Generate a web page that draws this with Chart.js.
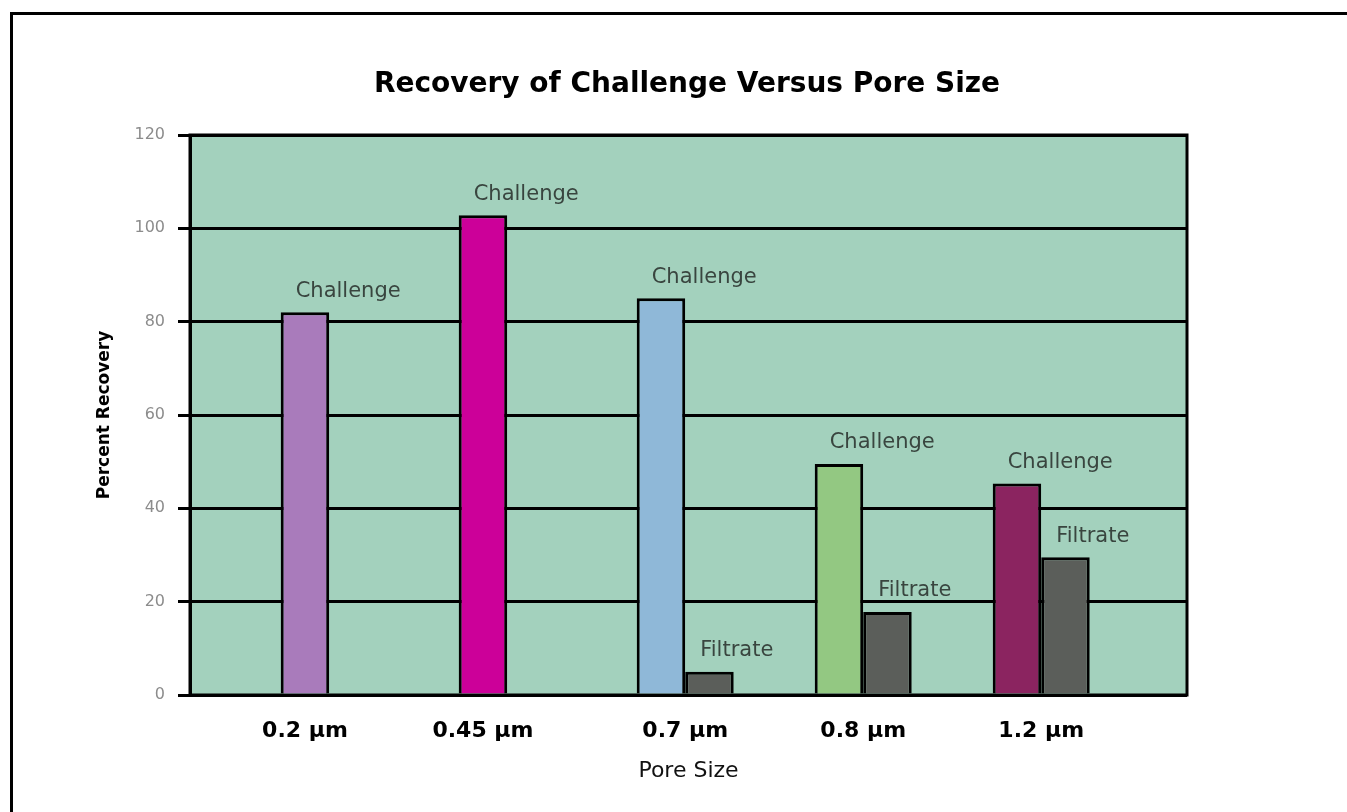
<!DOCTYPE html>
<html>
<head>
<meta charset="utf-8">
<script src="https://cdn.jsdelivr.net/npm/chart.js@4"></script>
<style>
  html, body { margin: 0; padding: 0; background: #fff; overflow: hidden; }
  #wrap { position: relative; width: 1347px; height: 812px; overflow: hidden; }
  #frame { position: absolute; left: 10px; top: 12px; width: 1400px; height: 900px;
           border-top: 3px solid #000; border-left: 3px solid #000; }
  canvas { position: absolute; left: 0; top: 0; }
</style>
</head>
<body>
<div id="wrap">
  <div id="frame"></div>
  <canvas id="chart" width="1347" height="812"></canvas>
</div>
<script>
// Pore sizes tested and percent recovery of each sample
const poreSizes = ['0.2 µm', '0.45 µm', '0.7 µm', '0.8 µm', '1.2 µm'];
const challenge = [82, 102.8, 85, 49.5, 45.3];
const filtrate = [null, null, 5, 17.8, 29.5];
const seriesNames = ['Challenge', 'Filtrate'];
const yTickValues = [0, 20, 40, 60, 80, 100, 120];

const challengeColors = ['#a97bbb', '#cc0099', '#8fb8d8', '#93c882', '#8b2460'];
const filtrateColor = '#5b5e5a';
const plotFill = '#a3d1bd';

const CAT_PCT = 0.545;
const FONT = '"DejaVu Sans", "Liberation Sans", sans-serif';
const LEFT_PAD = 27;

// Mint plot background and black frame round the plot
const plotFrame = {
  id: 'plotFrame',
  beforeDraw(chart) {
    const { ctx, chartArea: a } = chart;
    ctx.save();
    ctx.fillStyle = plotFill;
    ctx.fillRect(a.left, a.top, a.right - a.left, a.bottom - a.top);
    ctx.restore();
  },
  beforeDatasetsDraw(chart) {
    const { ctx, chartArea: a } = chart;
    ctx.save();
    ctx.strokeStyle = '#000';
    ctx.lineWidth = 3;
    ctx.strokeRect(a.left, a.top, a.right - a.left, a.bottom - a.top);
    ctx.restore();
  }
};

// Series name written above each bar
const barNames = {
  id: 'barNames',
  afterDatasetsDraw(chart) {
    const ctx = chart.ctx;
    ctx.save();
    ctx.font = '21px ' + FONT;
    ctx.fillStyle = '#39453f';
    ctx.textAlign = 'left';
    ctx.textBaseline = 'middle';
    chart.data.datasets.forEach((ds, di) => {
      chart.getDatasetMeta(di).data.forEach((bar, i) => {
        const v = ds.data[i].y;
        if (v === null || v === undefined) return;
        ctx.fillText(seriesNames[di], bar.x - bar.width / 2 + 15, bar.y - 21);
      });
    });
    ctx.restore();
  }
};

new Chart(document.getElementById('chart'), {
  type: 'bar',
  data: {
    datasets: [
      {
        label: seriesNames[0],
        data: challenge.map((v, i) => ({ x: i, y: v })),
        backgroundColor: challengeColors,
        borderColor: '#000',
        borderWidth: 3,
        categoryPercentage: CAT_PCT,
        barPercentage: 1
      },
      {
        label: seriesNames[1],
        data: filtrate.map((v, i) => ({ x: i, y: v })),
        backgroundColor: filtrateColor,
        borderColor: '#000',
        borderWidth: 3,
        categoryPercentage: CAT_PCT,
        barPercentage: 1
      }
    ]
  },
  options: {
    responsive: false,
    animation: false,
    layout: { padding: { left: LEFT_PAD, right: 0, top: 0, bottom: 0 } },
    plugins: {
      legend: { display: false },
      tooltip: { enabled: false },
      title: {
        display: true,
        text: 'Recovery of Challenge Versus Pore Size',
        color: '#000',
        font: { family: FONT, size: 28, weight: 'bold' },
        padding: { top: 68, bottom: 135 - 68 - 28 * 1.2 }
      }
    },
    scales: {
      x: {
        type: 'linear',
        offset: false,
        min: -0.782,
        max: 4.819,
        grid: { display: false, drawTicks: false },
        border: { display: false },
        afterBuildTicks: (s) => {
          // a lone bar keeps its left slot, so its label sits under that bar
          s.ticks = poreSizes.map((_, i) => ({ value: i - (filtrate[i] === null ? CAT_PCT / 4 : 0) }));
        },
        ticks: {
          autoSkip: false,
          maxRotation: 0,
          padding: 23,
          color: '#000',
          font: { family: FONT, size: 22, weight: 'bold' },
          callback: (v) => poreSizes[Math.round(v)]
        },
        title: {
          display: true,
          text: 'Pore Size',
          color: '#111',
          font: { family: FONT, size: 22 },
          padding: { top: 0, bottom: 28 }
        },
        afterFit: (s) => { s.height = 117; }
      },
      y: {
        min: 0,
        max: 120,
        afterBuildTicks: (s) => { s.ticks = yTickValues.map(v => ({ value: v })); },
        ticks: {
          padding: 13,
          color: '#8c8c8c',
          font: { family: FONT, size: 16 }
        },
        grid: { color: '#000', lineWidth: 3, tickLength: 12, tickColor: '#000', tickWidth: 3 },
        border: { color: '#000', width: 3 },
        title: {
          display: true,
          text: 'Percent Recovery',
          color: '#000',
          font: { family: FONT, size: 17, weight: 'bold' },
          padding: { top: 94 - LEFT_PAD, bottom: 0 }
        },
        afterFit: (s) => { s.width = 190 - LEFT_PAD; }
      },
      // empty margin to the right of the plot
      yMargin: {
        type: 'linear',
        position: 'right',
        grid: { display: false, drawTicks: false },
        border: { display: false },
        ticks: { display: false },
        afterFit: (s) => { s.width = 1347 - 1187; }
      }
    }
  },
  plugins: [plotFrame, barNames]
});
</script>
</body>
</html>
